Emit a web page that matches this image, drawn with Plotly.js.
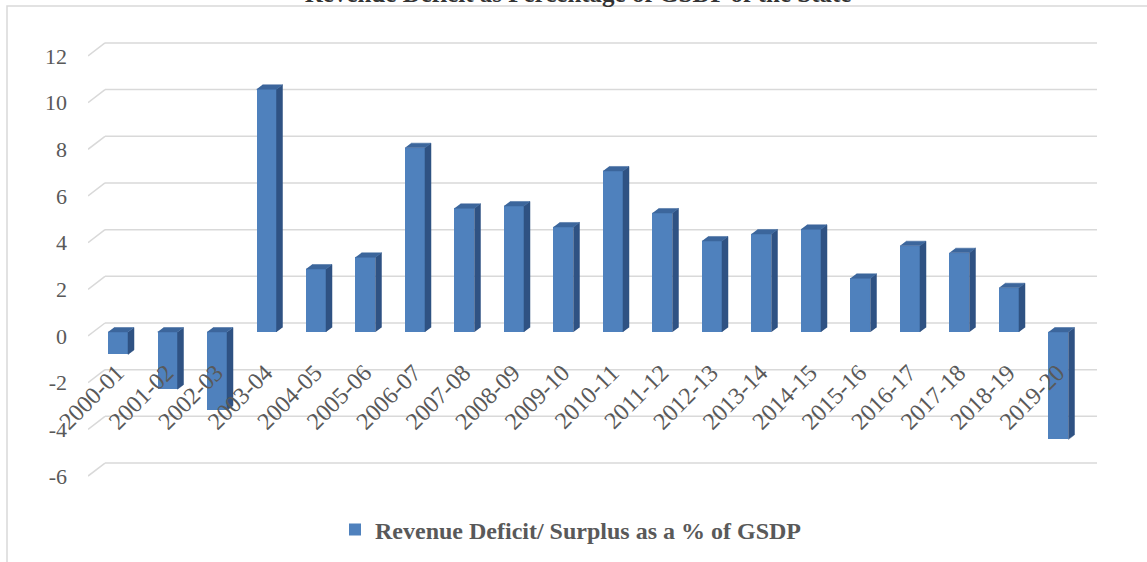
<!DOCTYPE html>
<html>
<head>
<meta charset="utf-8">
<script src="https://cdn.plot.ly/plotly-3.0.1.min.js"></script>
<style>
  html, body { margin: 0; padding: 0; background: #fff; }
  #chart { width: 1147px; height: 562px; }
</style>
</head>
<body>
<div id="chart"></div>
<script>
// Revenue deficit / surplus of the State as a share of GSDP, by financial year
const categories = ['2000-01', '2001-02', '2002-03', '2003-04', '2004-05', '2005-06', '2006-07',
  '2007-08', '2008-09', '2009-10', '2010-11', '2011-12', '2012-13', '2013-14', '2014-15',
  '2015-16', '2016-17', '2017-18', '2018-19', '2019-20'];
const deficitPct = [-0.96, -2.45, -3.35, 10.4, 2.7, 3.2, 7.9, 5.3, 5.4, 4.5, 6.9, 5.1, 3.9,
  4.2, 4.4, 2.3, 3.7, 3.4, 1.9, -4.6];
const yTicks = [-6, -4, -2, 0, 2, 4, 6, 8, 10, 12];
const yTickLabels = ['-6', '-4', '-2', '0', '2', '4', '6', '8', '10', '12'];
const seriesName = 'Revenue Deficit/ Surplus as a % of GSDP';
const chartTitle = 'Revenue Deficit as Percentage of GSDP of the State';

// ---- layout geometry ----
const W = 1147, H = 562;
const margin = { l: 88, r: 50, t: 30, b: 72 };
const xRange = [-0.606, 19.778];
const yRange = [-6.77, 12.94];
const pxPerX = (W - margin.l - margin.r) / (xRange[1] - xRange[0]);
const pxPerY = (H - margin.t - margin.b) / (yRange[1] - yRange[0]);

// pseudo-3D offsets (pixels converted to data units)
const barHalf = 10 / pxPerX;          // half width of a column's front face
const depthX = 6 / pxPerX;            // column depth, horizontal component
const depthY = 4.5 / pxPerY;          // column depth, vertical component
const wallX = 17 / pxPerX;            // floor-to-back-wall offset
const frontDrop = 4 / pxPerY;         // front edge sits a little below the columns
const wallRise = 9 / pxPerY;          // back wall sits above the columns

const xIdx = categories.map((_, i) => i);

// side and top faces of each column
const sideX = [], sideY = [], topX = [], topY = [];
deficitPct.forEach((v, i) => {
  const r = i + barHalf, l = i - barHalf;
  sideX.push(r, r, r + depthX, r + depthX, null);
  sideY.push(0, v, v + depthY, depthY, null);
  const capY = Math.max(v, 0);
  topX.push(l, r, r + depthX, l + depthX, null);
  topY.push(capY, capY, capY + depthY, capY + depthY, null);
});

// gridlines: a short diagonal across the floor, then along the back wall
const gridShapes = [];
yTicks.forEach(v => {
  const line = { color: '#d9d9d9', width: 1.5 };
  gridShapes.push({ type: 'line', layer: 'below', xref: 'x', yref: 'y',
    x0: xRange[0], y0: v - frontDrop, x1: xRange[0] + wallX, y1: v + wallRise, line });
  gridShapes.push({ type: 'line', layer: 'below', xref: 'x', yref: 'y',
    x0: xRange[0] + wallX, y0: v + wallRise, x1: xRange[1], y1: v + wallRise, line });
});

// chart area border
const toPaperX = px => (px - margin.l) / (W - margin.l - margin.r);
const toPaperY = py => (H - margin.b - py) / (H - margin.t - margin.b);
gridShapes.push({ type: 'rect', layer: 'below', xref: 'paper', yref: 'paper',
  x0: toPaperX(7), x1: toPaperX(W + 20), y0: toPaperY(H + 20), y1: toPaperY(6),
  line: { color: '#d9d9d9', width: 1.5 } });

const serif = '"Liberation Serif", "Times New Roman", serif';

const traces = [
  {
    type: 'bar', x: xIdx, y: deficitPct, width: 2 * barHalf, name: seriesName,
    marker: { color: '#4f81bd', line: { width: 0 } }, hoverinfo: 'skip', showlegend: true
  },
  {
    type: 'scatter', mode: 'lines', x: sideX, y: sideY, fill: 'toself',
    fillcolor: '#2f5283', line: { width: 0.5, color: '#2f5283' }, hoverinfo: 'skip', showlegend: false
  },
  {
    type: 'scatter', mode: 'lines', x: topX, y: topY, fill: 'toself',
    fillcolor: '#3c669c', line: { width: 0.5, color: '#3c669c' }, hoverinfo: 'skip', showlegend: false
  }
];

const layout = {
  width: W, height: H,
  margin: { l: margin.l, r: margin.r, t: margin.t, b: margin.b, pad: 0 },
  paper_bgcolor: '#ffffff', plot_bgcolor: 'rgba(0,0,0,0)',
  // the heading sits at the very top edge of the page, mostly above it
  title: {
    text: chartTitle, xref: 'container', yref: 'container', x: 0.504, xanchor: 'center',
    y: 0.996, yanchor: 'bottom',
    font: { family: serif, size: 25, weight: 700, color: '#333333' }
  },
  xaxis: {
    range: xRange, tickmode: 'array', tickvals: xIdx, ticktext: categories, tickangle: -45,
    anchor: 'free', position: 0.298, ticklabelshift: -1,
    showgrid: false, zeroline: false, showline: false,
    ticks: '', tickfont: { family: serif, size: 24, color: '#595959' }, fixedrange: true
  },
  yaxis: {
    range: yRange, tickmode: 'array', tickvals: yTicks, ticktext: yTickLabels,
    showgrid: false, zeroline: false,
    showline: false, ticks: '', ticklabelstandoff: 20, ticklabelshift: 4,
    tickfont: { family: serif, size: 22, color: '#595959' }, fixedrange: true
  },
  shapes: gridShapes,
  showlegend: true,
  legend: {
    orientation: 'h', xref: 'container', yref: 'container', x: 335 / W, xanchor: 'left',
    y: 0.057, yanchor: 'middle', bgcolor: 'rgba(0,0,0,0)',
    font: { family: serif, size: 24, weight: 700, color: '#595959' }
  },
  bargap: 0
};

Plotly.newPlot('chart', traces, layout, { staticPlot: true, displayModeBar: false });
</script>
</body>
</html>
